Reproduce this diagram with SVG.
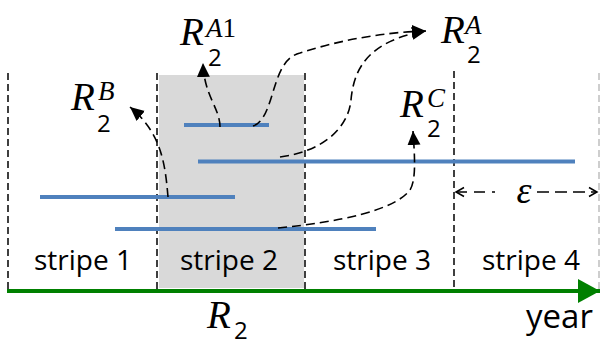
<svg xmlns="http://www.w3.org/2000/svg" width="601" height="346" viewBox="0 0 601 346">
<style>
.vd{stroke:#000;stroke-width:1.5;stroke-dasharray:7 4;fill:none}
.bl{stroke:#4f81bd;stroke-width:4;fill:none}
.cv{stroke:#000;stroke-width:1.6;stroke-dasharray:9 5;fill:none}
.R{font-family:"Liberation Serif",serif;font-style:italic;font-size:39px;fill:#000}
.sup{font-family:"Liberation Serif",serif;font-style:italic;font-size:27px;fill:#000}
.sub{font-family:"Open Sans","Liberation Sans",sans-serif;font-size:24px;fill:#000}
.lbl{font-family:"Open Sans","Liberation Sans",sans-serif;font-size:28px;fill:#000}
</style>
<defs>
<marker id="ah" markerUnits="userSpaceOnUse" markerWidth="16" markerHeight="16" viewBox="0 0 16 16" refX="14" refY="8" orient="auto">
<path d="M0,1.5 L14,8 L0,14.5 Z" fill="#000"/>
</marker>
<marker id="oa" markerUnits="userSpaceOnUse" markerWidth="12" markerHeight="12" viewBox="0 0 12 12" refX="10" refY="6" orient="auto-start-reverse">
<path d="M2,1.5 L10,6 L2,10.5" fill="none" stroke="#000" stroke-width="1.5"/>
</marker>
<marker id="ga" markerUnits="userSpaceOnUse" markerWidth="24" markerHeight="26" viewBox="0 0 24 26" refX="22" refY="13" orient="auto">
<path d="M0,1 L22,13 L0,25 Z" fill="#008000"/>
</marker>
</defs>

<g id="stripe2-bg">
<rect x="159" y="75" width="145" height="213" fill="#d9d9d9"/>
</g>

<g id="dividers">
<line class="vd" x1="8" y1="73" x2="8" y2="289"/>
<line class="vd" x1="157" y1="73" x2="157" y2="289"/>
<line class="vd" x1="305" y1="73" x2="305" y2="289"/>
<line class="vd" x1="454" y1="71" x2="454" y2="289"/>
<line x1="599" y1="73" x2="599" y2="289" stroke="#bfbfbf" stroke-width="1.5" stroke-dasharray="7 4"/>
</g>

<g id="intervals">
<line class="bl" x1="184" y1="125" x2="269" y2="125"/>
<line class="bl" x1="198" y1="161.5" x2="575" y2="161.5"/>
<line class="bl" x1="40" y1="197" x2="235" y2="197"/>
<line class="bl" x1="115" y1="229" x2="376" y2="229"/>
</g>

<g id="connectors">
<path class="cv" d="M220,127 C220,108 204,96 203,63" marker-end="url(#ah)"/>
<path class="cv" d="M168,197 C165,160 160,132 130,107" marker-end="url(#ah)"/>
<path class="cv" d="M253,126 C276,118 270,60 300,53 C340,40 385,32 426,31" marker-end="url(#ah)"/>
<path class="cv" d="M280,157 C320,152 348,130 351,100 C354,65 372,40 426,31" marker-end="url(#ah)"/>
<path class="cv" d="M278,228 C340,222 395,210 410,190 C416,180 415,160 413,131" marker-end="url(#ah)"/>
<path d="M456,192 L495,192" stroke="#000" stroke-width="1.5" stroke-dasharray="11 7" fill="none" marker-start="url(#oa)"/>
<path d="M537,192 L597,192" stroke="#000" stroke-width="1.5" stroke-dasharray="12 6" fill="none" marker-end="url(#oa)"/>
</g>

<g id="axis">
<line x1="7" y1="291" x2="600" y2="291" stroke="#008000" stroke-width="4" marker-end="url(#ga)"/>
</g>

<g id="label-RA1">
<text class="R" x="180" y="45">R</text>
<text class="sup" x="206" y="37">A<tspan font-style="normal">1</tspan></text>
<text class="sub" x="208" y="66">2</text>
</g>
<g id="label-RB">
<text class="R" x="71" y="110">R</text>
<text class="sup" x="98" y="100">B</text>
<text class="sub" x="97" y="132">2</text>
</g>
<g id="label-RA">
<text class="R" x="441" y="43">R</text>
<text class="sup" x="465" y="34">A</text>
<text class="sub" x="467" y="63">2</text>
</g>
<g id="label-RC">
<text class="R" x="400" y="117">R</text>
<text class="sup" x="427" y="107">C</text>
<text class="sub" x="427" y="137">2</text>
</g>
<g id="label-eps">
<text x="524" y="203" text-anchor="middle" font-family="Liberation Serif,serif" font-style="italic" font-size="38">ε</text>
</g>
<g id="stripes">
<text class="lbl" x="83" y="270" text-anchor="middle">stripe 1</text>
<text class="lbl" x="229" y="270" text-anchor="middle">stripe 2</text>
<text class="lbl" x="382" y="270" text-anchor="middle">stripe 3</text>
<text class="lbl" x="531" y="270" text-anchor="middle">stripe 4</text>
</g>
<g id="label-R2">
<text class="R" x="207" y="328">R</text>
<text class="sub" x="234" y="339">2</text>
</g>
<g id="label-year">
<text x="526" y="328" font-family="Open Sans,Liberation Sans,sans-serif" font-size="33">year</text>
</g>
</svg>
